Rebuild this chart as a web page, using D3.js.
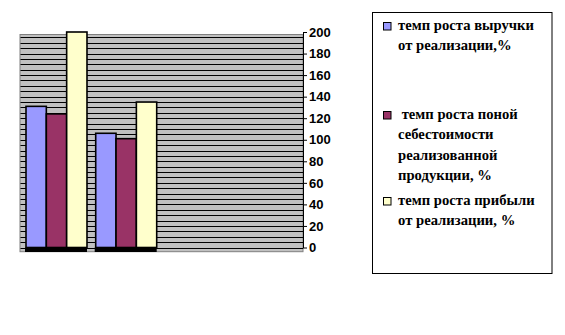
<!DOCTYPE html>
<html>
<head>
<meta charset="utf-8">
<script src="https://cdn.jsdelivr.net/npm/d3@7"></script>
<style>
  body { margin: 0; background: #fff; }
  svg { display: block; }
</style>
</head>
<body>
<svg id="chart" width="565" height="335"></svg>
<script>
// Two reporting periods, three growth indicators (%)
const categories = ["период 1", "период 2"];
const seriesNames = [
  "темп роста выручки\nот реализации,%",
  " темп роста поной\nсебестоимости\nреализованной\nпродукции, %",
  "темп роста прибыли\nот реализации, %"
];
const revenueGrowth = [131, 106];
const costGrowth = [124, 101];
const profitGrowth = [200, 135];
const yTickValues = [0, 20, 40, 60, 80, 100, 120, 140, 160, 180, 200];
const seriesColors = ["#9999ff", "#993366", "#ffffcc"];

const seriesValues = [revenueGrowth, costGrowth, profitGrowth];
const rows = categories.map((c, i) => ({
  category: c,
  values: seriesValues.map((s, k) => ({ k, v: s[i] }))
}));

const svg = d3.select("#chart");

// Layout
const wall = { x0: 20, x1: 303, y0: 34.5, y1: 251.7 };
const axisX = 303;

const y = d3.scaleLinear().domain([0, 200]).range([247.5, 32]);
const x0 = d3.scaleBand().domain(categories).range([26, 156.7]).paddingInner(0.125);
const x1 = d3.scaleBand().domain(d3.range(seriesNames.length)).range([0, x0.bandwidth()]);

// Grey back wall
svg.append("rect")
  .attr("x", wall.x0).attr("y", wall.y0)
  .attr("width", wall.x1 - wall.x0).attr("height", wall.y1 - wall.y0)
  .attr("fill", "#c0c0c0")
  .attr("stroke", "#808080").attr("stroke-width", 1);

// Minor gridlines every 5 units
const gridVals = d3.range(0, 201, 5).filter(v => y(v) > wall.y0 + 1);
svg.append("g").selectAll("line").data(gridVals).join("line")
  .attr("x1", wall.x0 + 0.5).attr("x2", wall.x1)
  .attr("y1", d => Math.round(y(d)) + 0.5).attr("y2", d => Math.round(y(d)) + 0.5)
  .attr("stroke", "#000").attr("stroke-width", 1.2);

// Dark floor strip under each group
svg.append("g").selectAll("rect").data(categories).join("rect")
  .attr("x", d => x0(d) - 1)
  .attr("y", y(0))
  .attr("width", x0.bandwidth() + 1)
  .attr("height", 4.5)
  .attr("fill", "#000");

// Bars
const groups = svg.append("g").selectAll("g").data(rows).join("g")
  .attr("transform", d => `translate(${x0(d.category)},0)`);
groups.selectAll("rect").data(d => d.values).join("rect")
  .attr("x", d => x1(d.k))
  .attr("y", d => y(d.v))
  .attr("width", x1.bandwidth())
  .attr("height", d => y(0) - y(d.v))
  .attr("fill", d => seriesColors[d.k])
  .attr("stroke", "#000").attr("stroke-width", 1.6);

// Value axis on the right
const axis = d3.axisRight(y).tickValues(yTickValues).tickSize(4).tickSizeOuter(0).tickPadding(2);
const ax = svg.append("g").attr("transform", `translate(${axisX},0)`).call(axis)
  .attr("font-family", "Liberation Sans")
  .attr("font-size", 13)
  .attr("font-weight", "bold");
ax.select(".domain").attr("stroke", "#000");
ax.selectAll(".tick line").attr("stroke", "#000");
ax.selectAll(".tick text").attr("fill", "#000");

// Legend
const legend = svg.append("g");
legend.append("rect")
  .attr("x", 372.5).attr("y", 12.5)
  .attr("width", 179.5).attr("height", 261)
  .attr("fill", "#fff").attr("stroke", "#000").attr("stroke-width", 1);

const textX = 398;
const entryTop = [30, 119, 205];
const lineGap = 20.5;
const labelGroup = legend.append("g");
seriesNames.forEach((name, k) => {
  legend.append("rect")
    .attr("x", 383.5).attr("y", entryTop[k] - 7.5)
    .attr("width", 7.5).attr("height", 7.5)
    .attr("fill", seriesColors[k])
    .attr("stroke", "#000").attr("stroke-width", 1);
  const t = labelGroup.append("text")
    .attr("font-family", "Liberation Serif")
    .attr("font-weight", "bold")
    .attr("font-size", 14)
    .attr("fill", "#000")
    .attr("xml:space", "preserve");
  name.split("\n").forEach((line, i) => {
    t.append("tspan").attr("x", textX).attr("y", entryTop[k] + i * lineGap).text(line);
  });
});

// Widen the legend lettering: first line spans ~136px, nothing passes the frame
const lineWidths = [];
labelGroup.selectAll("tspan").each(function () { lineWidths.push(this.getComputedTextLength()); });
const firstWidth = lineWidths[0];
const widest = d3.max(lineWidths);
const sx = Math.min(136 / firstWidth, 148 / widest);
labelGroup.attr("transform", `translate(${textX},0) scale(${sx},1) translate(${-textX},0)`);
</script>
</body>
</html>
